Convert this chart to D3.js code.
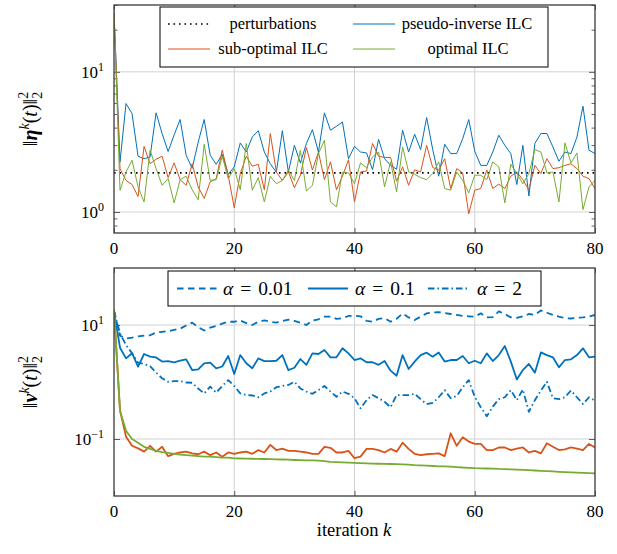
<!DOCTYPE html>
<html><head><meta charset="utf-8">
<script src="https://cdn.jsdelivr.net/npm/d3@7"></script>
<style>
body{margin:0;background:#fff;}
svg{display:block;}
svg text{font-family:"Liberation Serif","Times New Roman",serif;fill:#000;}
</style>
</head><body>
<svg id="c" width="617" height="554" font-family="Liberation Serif"></svg>
<script>
// ---------------- data ----------------
const xTicks = [0, 20, 40, 60, 80];
const topYTicks = [1, 10];
const topYTickExp = ["0", "1"];
const botYTicks = [0.1, 10];
const botYTickExp = ["\u22121", "1"];
const topMinorTicks = [0.8, 0.9, 2, 3, 4, 5, 6, 7, 8, 9, 20, 30];

const perturbationLevel = 1.9;
const pseudoInverse = [27,2.28,5.94,5.04,2.50,2.40,2.47,5.10,3.63,2.70,
  3.55,4.57,2.54,2.05,3.15,4.57,2.54,2.19,2.58,1.85,
  2.10,3.11,2.68,3.43,3.80,2.68,2.21,1.92,3.80,1.93,
  2.99,2.24,3.08,3.87,2.68,5.10,3.83,4.09,4.39,2.40,
  2.94,2.68,2.64,2.00,3.30,2.40,2.15,2.02,3.83,2.68,
  3.59,2.79,4.72,2.80,1.80,3.04,2.61,2.61,3.34,4.57,
  2.71,2.15,2.15,2.68,3.53,2.99,2.61,1.57,2.99,1.30,
  3.08,3.63,3.63,2.91,2.30,2.68,2.61,3.43,5.69,2.76,
  2.61];
const subOptimal = [26,2.04,1.68,1.57,1.29,2.94,2.21,2.38,2.50,1.76,
  2.24,1.70,1.55,2.21,1.51,1.25,1.64,1.73,2.76,1.83,
  1.07,1.88,2.50,2.12,2.19,1.44,3.63,1.93,1.68,1.93,
  1.49,1.83,2.88,1.99,2.68,1.70,2.28,1.44,1.80,2.36,
  1.18,1.93,1.96,3.08,2.50,2.45,2.45,1.66,2.10,1.55,
  2.00,1.93,2.99,2.08,1.99,2.40,1.47,2.04,1.90,0.97,
  1.43,1.47,1.99,1.47,1.58,1.47,1.80,1.93,1.70,1.44,
  2.15,1.88,2.40,2.04,2.07,2.15,2.21,2.04,1.80,1.73,
  1.47];
const optimal = [26.5,1.43,1.93,2.34,1.51,1.18,2.76,2.04,1.55,1.73,
  1.16,1.70,1.80,1.44,1.22,3.04,1.68,1.70,2.50,1.73,
  2.04,1.44,3.08,1.43,1.76,1.18,1.80,1.59,1.68,1.99,
  1.68,2.76,1.41,1.55,2.61,3.25,1.18,1.09,1.93,1.90,
  1.59,2.24,2.07,2.47,2.68,1.51,2.28,1.39,2.91,1.93,
  1.86,1.76,1.70,1.88,2.28,1.47,1.43,1.93,1.68,1.37,
  1.83,1.83,1.70,2.28,2.10,1.16,2.19,1.88,1.59,1.88,
  2.79,2.68,1.90,1.93,1.18,3.11,2.24,2.64,1.04,1.51,
  1.68];

const alpha001 = [17.6,6.5,5.8,6.0,6.3,6.5,6.6,7.4,7.6,7.8,
  8.2,8.6,9.8,11.0,9.2,8.0,9.0,9.6,10.6,11.4,
  11.4,12.0,10.8,10.0,11.4,12.0,11.4,11.0,11.8,12.4,
  11.8,11.0,10.0,12.0,12.6,14.0,14.0,12.8,13.2,14.4,
  14.6,14.2,11.8,11.4,12.8,13.2,11.4,12.8,16.0,13.6,
  12.2,14.0,16.0,16.6,16.8,16.2,15.6,15.0,14.4,14.2,
  14.0,16.0,13.6,13.8,17.3,15.6,13.6,13.4,14.2,15.6,
  15.0,18.0,16.4,15.0,14.0,13.2,13.0,13.4,13.6,14.0,
  15.0];
const alpha01 = [17.6,4.0,2.6,3.2,1.86,3.1,2.78,2.7,2.28,2.33,
  2.22,2.36,2.5,1.62,1.67,2.13,2.19,1.74,1.87,2.86,
  1.38,2.97,2.13,1.74,2.6,2.33,2.33,2.36,2.97,1.62,
  1.78,2.53,2.0,3.18,3.10,3.64,2.71,2.71,3.9,3.18,
  2.43,2.6,2.22,2.22,2.0,2.33,1.58,1.29,2.97,1.69,
  2.28,2.97,3.27,2.78,3.3,2.28,2.43,2.43,2.86,2.13,
  2.36,2.13,3.18,2.33,2.97,4.28,2.28,1.11,1.62,2.07,
  1.46,3.3,2.97,2.71,1.81,2.43,2.5,2.97,3.9,2.71,
  2.78];
const alpha2 = [17.6,7.1,4.45,3.2,2.18,2.07,1.9,1.46,1.16,1.01,
  1.04,1.04,0.98,0.97,0.77,0.63,0.83,0.65,0.85,1.08,
  0.85,0.63,0.59,0.58,0.54,0.63,0.68,0.81,0.85,0.885,
  1.01,0.77,0.68,0.62,0.72,0.85,0.68,0.55,0.68,0.62,
  0.52,0.345,0.48,0.59,0.52,0.45,0.36,0.59,0.59,0.59,
  0.62,0.50,0.41,0.43,0.54,0.72,0.52,0.57,0.81,1.08,
  0.55,0.36,0.25,0.37,0.50,0.54,0.72,0.48,0.74,0.30,
  0.48,0.71,1.01,0.52,0.50,0.54,0.71,0.54,0.41,0.54,
  0.47];
const subOptimalNu = [18,0.32,0.110,0.076,0.0685,0.060,0.076,0.060,0.073,0.050,
  0.055,0.058,0.060,0.056,0.054,0.060,0.052,0.058,0.049,0.058,
  0.055,0.058,0.060,0.055,0.064,0.058,0.079,0.064,0.068,0.062,
  0.062,0.060,0.058,0.055,0.055,0.073,0.070,0.058,0.058,0.062,
  0.046,0.049,0.067,0.067,0.064,0.058,0.067,0.060,0.086,0.067,
  0.055,0.052,0.054,0.055,0.056,0.050,0.126,0.076,0.107,0.090,
  0.082,0.082,0.064,0.064,0.071,0.071,0.064,0.068,0.071,0.058,
  0.062,0.056,0.084,0.073,0.064,0.066,0.071,0.068,0.064,0.082,
  0.071];
const optimalNu = [18.8,0.31,0.14,0.10,0.086,0.073,0.067,0.062,0.059,0.057,
  0.055,0.053,0.052,0.051,0.050,0.049,0.049,0.048,0.047,0.047,
  0.0458,0.0455,0.0452,0.0450,0.0448,0.0446,0.0444,0.0440,0.0437,0.0433,
  0.0428,0.0425,0.0422,0.0420,0.0418,0.0410,0.0398,0.0392,0.0388,0.0385,
  0.0380,0.0376,0.0374,0.0370,0.0368,0.0366,0.0364,0.0362,0.0360,0.0355,
  0.0348,0.0344,0.0340,0.0336,0.0332,0.0330,0.0327,0.0322,0.0316,0.0312,
  0.0308,0.0306,0.0304,0.0302,0.0298,0.0296,0.0293,0.0290,0.0288,0.0284,
  0.0280,0.0277,0.0274,0.0270,0.0266,0.0263,0.0260,0.0258,0.0255,0.0252,
  0.0250];

const topLegendLabels = ["perturbations", "pseudo-inverse ILC", "sub-optimal ILC", "optimal ILC"];
const botLegendValues = ["0.01", "0.1", "2"];

// ---------------- styles ----------------
const FONT = "Liberation Serif";
const BLUE = "#0072BD", ORANGE = "#D95319", GREEN = "#77AC30";
const GRID = "#d2d2d2", AXIS = "#3a3a3a";
const DASHED = "6.5,4.5", DASHDOT = "6.5,3,1.5,3", DOTTED = "1.6,3.9";

const svg = d3.select("#c");
const L = 114, R = 595;
const x = d3.scaleLinear().domain([0, 80]).range([L, R]);
const yTop = d3.scaleLog().domain([0.708, 30]).range([233, 5]);
const yBot = d3.scaleLog().domain([0.01, 100]).range([496, 268]);

function txt(g) { return g.append("text").attr("font-family", FONT); }

function panel(y, majorY, minorY, exps, id) {
  const [b, t] = y.range();
  const g = svg.append("g");
  svg.append("clipPath").attr("id", id).append("rect")
    .attr("x", L).attr("y", t).attr("width", R - L).attr("height", b - t);
  g.selectAll(".vg").data(xTicks.slice(1, -1)).join("line")
    .attr("x1", d => x(d)).attr("x2", d => x(d)).attr("y1", t).attr("y2", b)
    .attr("stroke", GRID).attr("stroke-width", 1);
  g.selectAll(".hg").data(majorY).join("line")
    .attr("x1", L).attr("x2", R).attr("y1", d => y(d)).attr("y2", d => y(d))
    .attr("stroke", GRID).attr("stroke-width", 1);
  const ax = [
    [d3.axisBottom(x).tickValues(xTicks), `translate(0,${b})`, -5],
    [d3.axisTop(x).tickValues(xTicks), `translate(0,${t})`, -5],
    [d3.axisLeft(y).tickValues(majorY), `translate(${L},0)`, -6],
    [d3.axisRight(y).tickValues(majorY), `translate(${R},0)`, -6],
  ];
  if (minorY.length) {
    ax.push([d3.axisLeft(y).tickValues(minorY), `translate(${L},0)`, -3.5]);
    ax.push([d3.axisRight(y).tickValues(minorY), `translate(${R},0)`, -3.5]);
  }
  ax.forEach(([a, tr, s]) => {
    const ag = g.append("g").attr("transform", tr)
      .call(a.tickSizeInner(s).tickSizeOuter(0).tickFormat(""));
    ag.select(".domain").remove();
    ag.selectAll("line").attr("stroke", AXIS).attr("stroke-width", 0.8);
  });
  xTicks.forEach(d => {
    txt(g).attr("x", x(d)).attr("y", b + 21).attr("text-anchor", "middle")
      .attr("font-size", 17).text(d);
  });
  majorY.forEach((v, i) => {
    const tx = txt(g).attr("x", 104).attr("y", y(v) + 6)
      .attr("text-anchor", "end").attr("font-size", 17);
    tx.append("tspan").text("10");
    tx.append("tspan").attr("dy", -7).attr("font-size", 12).text(exps[i]);
  });
  return g;
}

const gTop = panel(yTop, topYTicks, topMinorTicks, topYTickExp, "clipTop");
const gBot = panel(yBot, botYTicks, [], botYTickExp, "clipBot");

function drawLine(g, y, data, color, w, dash, clip) {
  const line = d3.line().x((d, i) => x(i)).y(d => y(d));
  g.append("path").datum(data).attr("d", line)
    .attr("fill", "none").attr("stroke", color).attr("stroke-width", w)
    .attr("stroke-dasharray", dash || null).attr("stroke-linejoin", "round")
    .attr("clip-path", `url(#${clip})`);
}

gTop.append("line").attr("x1", x(0)).attr("x2", x(80))
  .attr("y1", yTop(perturbationLevel)).attr("y2", yTop(perturbationLevel))
  .attr("stroke", "#000").attr("stroke-width", 1.6).attr("stroke-dasharray", DOTTED);
drawLine(gTop, yTop, pseudoInverse, BLUE, 1.0, null, "clipTop");
drawLine(gTop, yTop, subOptimal, ORANGE, 1.0, null, "clipTop");
drawLine(gTop, yTop, optimal, GREEN, 1.0, null, "clipTop");

drawLine(gBot, yBot, alpha001, BLUE, 1.8, DASHED, "clipBot");
drawLine(gBot, yBot, alpha01, BLUE, 1.8, null, "clipBot");
drawLine(gBot, yBot, alpha2, BLUE, 1.8, DASHDOT, "clipBot");
drawLine(gBot, yBot, subOptimalNu, ORANGE, 1.8, null, "clipBot");
drawLine(gBot, yBot, optimalNu, GREEN, 1.8, null, "clipBot");

[[yTop, gTop], [yBot, gBot]].forEach(([y, g]) => {
  const [b, t] = y.range();
  g.append("rect").attr("x", L).attr("y", t).attr("width", R - L).attr("height", b - t)
    .attr("fill", "none").attr("stroke", AXIS).attr("stroke-width", 1.3);
});

// top legend
const lg = svg.append("g");
lg.append("rect").attr("x", 160).attr("y", 7).attr("width", 388).attr("height", 60)
  .attr("fill", "#fff").attr("stroke", "#000").attr("stroke-width", 1);
const topLegendStyle = [
  {c: "#000", dash: DOTTED, w: 1.6, sx: 168, tx: 273, ty: 24},
  {c: BLUE, dash: null, w: 1.0, sx: 353, tx: 467, ty: 24},
  {c: ORANGE, dash: null, w: 1.0, sx: 168, tx: 273, ty: 49},
  {c: GREEN, dash: null, w: 1.0, sx: 353, tx: 468, ty: 49},
];
topLegendLabels.forEach((lab, i) => {
  const s = topLegendStyle[i];
  lg.append("line").attr("x1", s.sx).attr("x2", s.sx + 42).attr("y1", s.ty).attr("y2", s.ty)
    .attr("stroke", s.c).attr("stroke-width", s.w).attr("stroke-dasharray", s.dash);
  txt(lg).attr("x", s.tx).attr("y", s.ty + 5).attr("text-anchor", "middle")
    .attr("font-size", 16.5).text(lab);
});

// bottom legend
const bl = svg.append("g");
bl.append("rect").attr("x", 168).attr("y", 271).attr("width", 373).attr("height", 35)
  .attr("fill", "#fff").attr("stroke", "#000").attr("stroke-width", 1);
const botLegendStyle = [
  {dash: DASHED, sx: 177, tx: 223},
  {dash: null, sx: 308, tx: 355},
  {dash: DASHDOT, sx: 428, tx: 477},
];
botLegendValues.forEach((v, i) => {
  const s = botLegendStyle[i];
  bl.append("line").attr("x1", s.sx).attr("x2", s.sx + 40).attr("y1", 288.5).attr("y2", 288.5)
    .attr("stroke", BLUE).attr("stroke-width", 1.8).attr("stroke-dasharray", s.dash);
  const t = txt(bl).attr("x", s.tx).attr("y", 294.5).attr("font-size", 19.5);
  t.append("tspan").attr("font-style", "italic").text("\u03b1");
  t.append("tspan").attr("dx", 7).text("=");
  t.append("tspan").attr("dx", 7).text(v);
});

// axis titles
function normLabel(cx, cy, sym) {
  const t = txt(svg).attr("transform", `translate(${cx},${cy}) rotate(-90)`)
    .attr("text-anchor", "middle").attr("font-size", 20);
  t.append("tspan").text("\u2016");
  t.append("tspan").attr("font-weight", "bold").attr("font-style", "italic").text(sym);
  t.append("tspan").attr("dy", -8).attr("font-size", 14).attr("font-style", "italic").text("k");
  t.append("tspan").attr("dy", 8).text("(");
  t.append("tspan").attr("font-style", "italic").text("t");
  t.append("tspan").text(")\u2016");
  t.append("tspan").attr("dy", -9).attr("font-size", 14).text("2");
  t.append("tspan").attr("dx", -7).attr("dy", 14).attr("font-size", 14).text("2");
}
normLabel(37, 119, "\u03b7");
normLabel(37, 382, "\u03bd");

const xt = txt(svg).attr("x", 354).attr("y", 536).attr("text-anchor", "middle").attr("font-size", 18.5);
xt.append("tspan").text("iteration ");
xt.append("tspan").attr("font-style", "italic").text("k");
</script>
</body></html>
